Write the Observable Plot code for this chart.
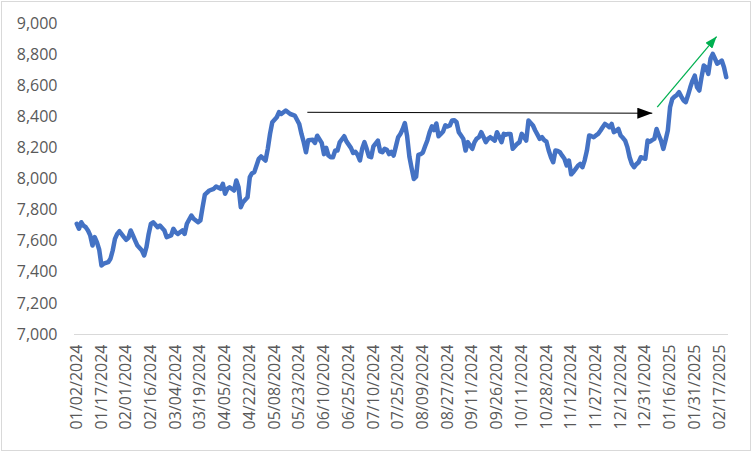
<!DOCTYPE html>
<html><head><meta charset="utf-8">
<script src="https://cdn.jsdelivr.net/npm/d3@7"></script>
<script src="https://cdn.jsdelivr.net/npm/@observablehq/plot@0.6"></script>
<style>
body{margin:0;background:#fff;}
#chart svg{display:block;outline:1px solid #d9d9d9;outline-offset:-2px;}
</style>
</head><body><div id="chart"></div>
<script>
// trading-day index (position on the category axis) and value
const dayIndex = [0,1,2,3,4,5,6,7,8,9,10,11,12,13,14,15,16,17,18,19,21,22,23,24,25,26,27,29,30,31,32,33,34,36,37,39,40,42,43,44,45,47,48,49,51,52,54,55,56,57,59,61,62,64,65,66,67,68,70,71,72,73,74,76,77,78,79,81,82,84,85,86,87,89,90,91,93,95,97,99,100,101,102,103,105,106,107,109,110,111,112,113,114,115,116,117,119,120,122,123,124,125,126,127,128,129,130,131,132,134,135,136,137,138,139,140,141,142,143,144,145,146,147,148,149,150,151,152,153,154,155,156,157,158,159,160,161,162,163,164,165,166,167,168,169,170,171,172,173,174,175,176,177,178,179,180,181,182,183,184,185,186,187,188,189,190,191,192,193,194,195,196,197,198,199,200,201,202,203,204,205,206,207,208,209,210,211,212,213,214,215,216,217,218,219,220,221,222,223,224,225,226,227,228,229,230,231,232,233,234,235,236,237,238,239,240,241,242,243,244,245,246,247,248,249,250,251,252,253,254,255,256,257,258,259,260,261,262,263,264,265,266,267,268,269,270,271,272,273,274,275,276,277,278,279,280,281,282,283,284,285,286,287,288,289];
const closeValue = [7712,7680,7722,7700,7690,7669,7637,7572,7626,7593,7545,7444,7455,7460,7465,7487,7540,7615,7647,7664,7626,7609,7622,7669,7637,7604,7572,7540,7508,7561,7647,7712,7722,7690,7701,7669,7626,7637,7680,7658,7647,7669,7647,7712,7765,7744,7722,7733,7819,7900,7926,7937,7952,7937,7969,7905,7937,7947,7926,7990,7947,7819,7851,7883,8012,8037,8044,8130,8145,8119,8194,8290,8365,8397,8430,8418,8440,8418,8408,8354,8290,8237,8172,8250,8252,8232,8278,8232,8160,8200,8151,8140,8140,8183,8183,8236,8275,8242,8200,8167,8175,8155,8119,8194,8237,8194,8145,8140,8210,8247,8178,8172,8194,8188,8160,8175,8151,8210,8269,8290,8320,8360,8275,8145,8070,8000,8015,8155,8160,8170,8210,8248,8300,8338,8315,8357,8275,8290,8306,8345,8338,8344,8376,8378,8365,8301,8280,8258,8183,8237,8215,8194,8237,8260,8269,8301,8270,8237,8258,8269,8258,8247,8301,8270,8237,8290,8285,8290,8290,8194,8210,8226,8237,8290,8270,8247,8376,8360,8344,8312,8285,8258,8269,8250,8240,8183,8140,8108,8183,8180,8172,8150,8130,8087,8119,8030,8045,8065,8085,8097,8076,8120,8183,8280,8275,8269,8280,8290,8310,8333,8354,8345,8333,8354,8301,8310,8322,8280,8265,8247,8205,8140,8097,8076,8095,8108,8140,8135,8130,8247,8240,8250,8258,8322,8280,8247,8194,8250,8312,8462,8515,8530,8540,8558,8530,8505,8494,8540,8590,8633,8665,8590,8569,8655,8730,8719,8676,8773,8805,8773,8741,8751,8762,8719,8655];
const tickLabels = ["01/02/2024","01/17/2024","02/01/2024","02/16/2024","03/04/2024","03/19/2024","04/05/2024","04/22/2024","05/08/2024","05/23/2024","06/10/2024","06/25/2024","07/10/2024","07/25/2024","08/09/2024","08/27/2024","09/11/2024","09/26/2024","10/11/2024","10/28/2024","11/12/2024","11/27/2024","12/12/2024","12/31/2024","01/16/2025","01/31/2025","02/17/2025"];
const labelEvery = 11;
const yTicks = [7000,7200,7400,7600,7800,8000,8200,8400,8600,8800,9000];
// annotation arrows (start/end in data units)
const flatArrowX = [102.6, 256.1];
const flatArrowY = [8429, 8423];
const upArrowX = [258.3, 284.7];
const upArrowY = [8462, 8916];

const series = dayIndex.map((d, i) => ({i: d, v: closeValue[i]}));
const xTicks = tickLabels.map((_, k) => k * labelEvery);

function filledHead(len, wid) {
  return (color) => {
    const m = d3.create("svg:marker")
      .attr("viewBox", `${-len} ${-wid/2} ${len} ${wid}`)
      .attr("markerWidth", len).attr("markerHeight", wid)
      .attr("markerUnits", "userSpaceOnUse")
      .attr("refX", 0).attr("refY", 0)
      .attr("orient", "auto")
      .attr("fill", color).attr("stroke", "none");
    m.append("path").attr("d", `M${-len},${-wid/2}L0,0L${-len},${wid/2}Z`);
    return m.node();
  };
}

const chart = Plot.plot({
  width: 752, height: 452,
  marginLeft: 74, marginRight: 24, marginTop: 23, marginBottom: 118,
  style: {fontFamily: "'Open Sans', sans-serif", fontSize: "16px", color: "#595959", background: "#fff"},
  x: {type: "linear", domain: [-1, 290]},
  y: {domain: [7000, 9000]},
  marks: [
    Plot.ruleY([7000], {stroke: "#d9d9d9", strokeWidth: 1}),
    Plot.axisY(yTicks, {tickFormat: d3.format(","), tickSize: 0, tickPadding: 17, label: null}),
    Plot.axisX(xTicks, {tickFormat: d => tickLabels[d / labelEvery], tickRotate: -90, tickSize: 0, tickPadding: 10, label: null}),
    Plot.line(series, {x: "i", y: "v", stroke: "#4472C4", strokeWidth: 4.5, strokeLinejoin: "round", strokeLinecap: "round"}),
    Plot.link([0], {x1: () => flatArrowX[0], y1: () => flatArrowY[0], x2: () => flatArrowX[1], y2: () => flatArrowY[1], stroke: "#000", strokeWidth: 1, markerEnd: filledHead(15, 11)}),
    Plot.link([0], {x1: () => upArrowX[0], y1: () => upArrowY[0], x2: () => upArrowX[1], y2: () => upArrowY[1], stroke: "#00B050", strokeWidth: 1.25, markerEnd: filledHead(12, 9)})
  ]
});
document.getElementById("chart").append(chart);
</script>
</body></html>
